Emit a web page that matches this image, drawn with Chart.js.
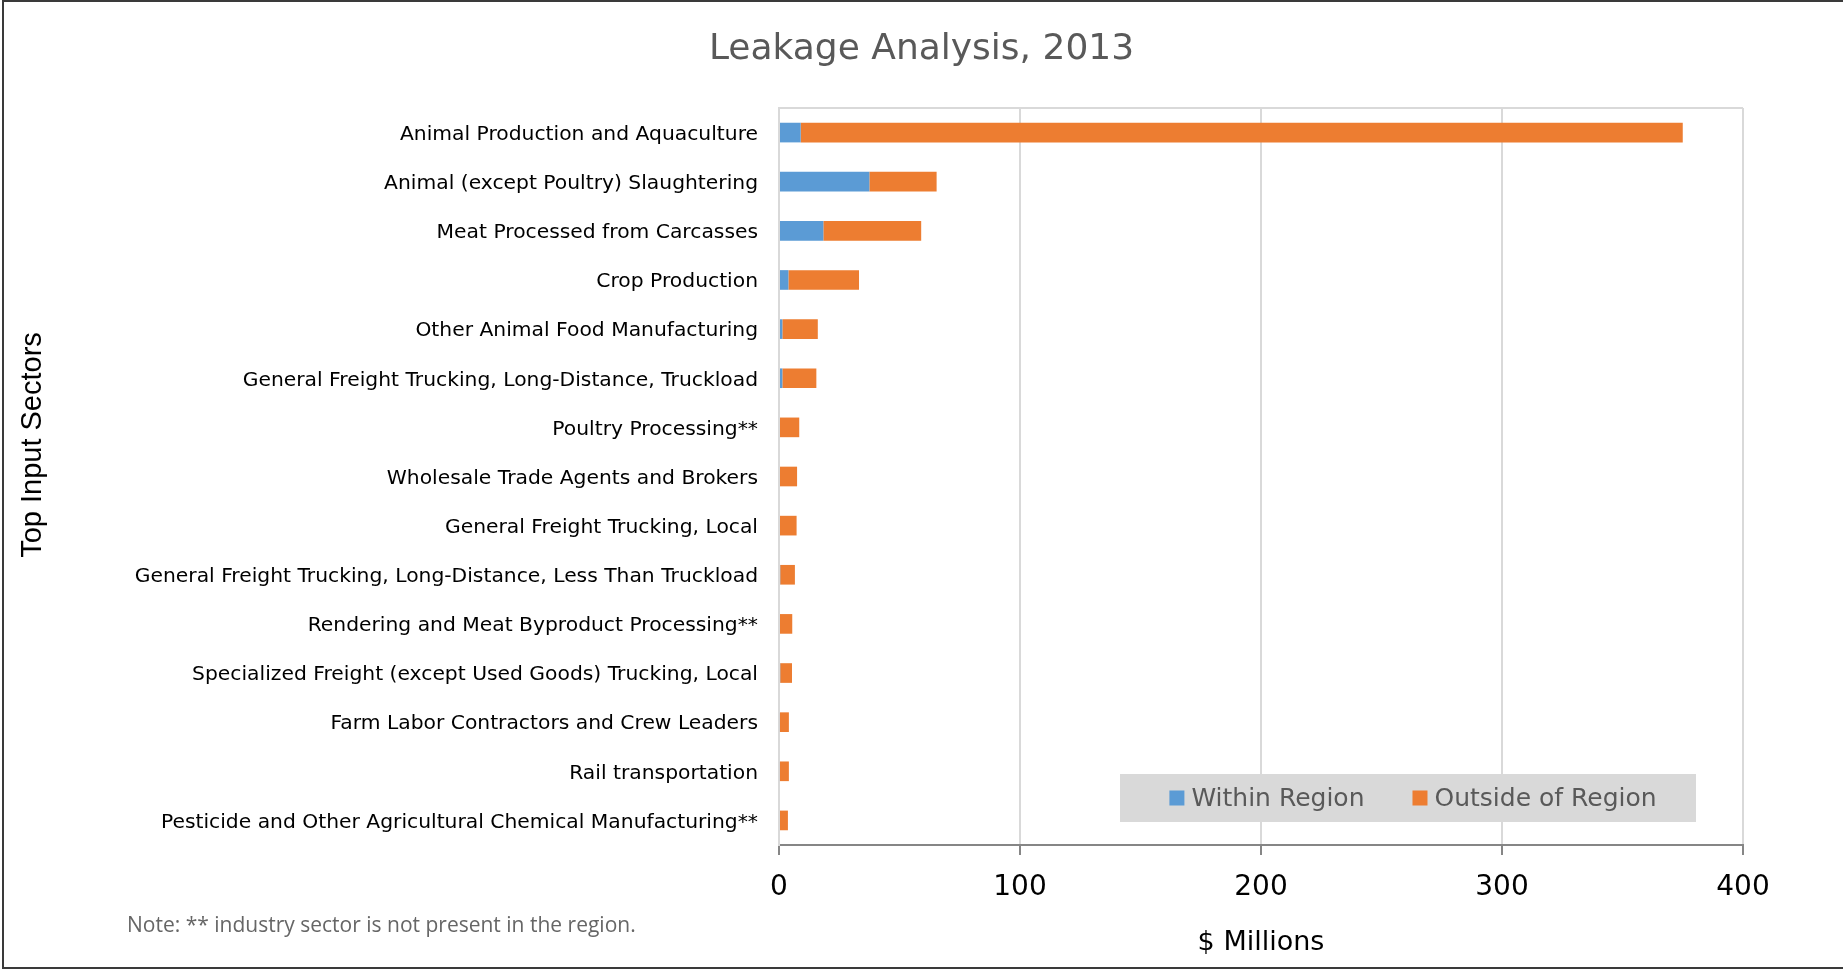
<!DOCTYPE html>
<html lang="en">
<head>
<meta charset="utf-8">
<title>Leakage Analysis, 2013</title>
<script src="https://cdn.jsdelivr.net/npm/chart.js@4.4.1/dist/chart.umd.min.js"></script>
<style>
  html, body { margin: 0; padding: 0; background: #fff; }
  #wrap { position: relative; width: 1843px; height: 970px; }
</style>
</head>
<body>
<div id="wrap"><canvas id="leakageChart"></canvas></div>
<script>
// Daten aus dem Diagramm (Werte in $ Millionen)
const sectors = [
  "Animal Production and Aquaculture",
  "Animal (except Poultry) Slaughtering",
  "Meat Processed from Carcasses",
  "Crop Production",
  "Other Animal Food Manufacturing",
  "General Freight Trucking, Long-Distance, Truckload",
  "Poultry Processing**",
  "Wholesale Trade Agents and Brokers",
  "General Freight Trucking, Local",
  "General Freight Trucking, Long-Distance, Less Than Truckload",
  "Rendering and Meat Byproduct Processing**",
  "Specialized Freight (except Used Goods) Trucking, Local",
  "Farm Labor Contractors and Crew Leaders",
  "Rail transportation",
  "Pesticide and Other Agricultural Chemical Manufacturing**",
];
const withinRegion = [9, 37.5, 18.4, 3.9, 1.4, 1.4, 0, 0, 0, 0.5, 0, 0.5, 0.4, 0.4, 0];
const outsideRegion = [366, 27.9, 40.6, 29.3, 14.7, 14.1, 8.4, 7.5, 7.3, 6.1, 5.5, 4.9, 3.7, 3.7, 3.7];
const xTickValues = [0, 100, 200, 300, 400];

const chartTitle = "Leakage Analysis, 2013";
const xAxisTitle = "$ Millions";
const yAxisTitle = "Top Input Sectors";
const noteText = "Note: ** industry sector is not present in the region.";

// Rahmen, Titel, Achsentitel, Hinweis und Legende selbst zeichnen
const extrasPlugin = {
  id: "extras",
  beforeDatasetsDraw(chart) {
    const { ctx, chartArea } = chart;
    ctx.save();
    ctx.strokeStyle = "#d9d9d9";
    ctx.lineWidth = 2;
    ctx.beginPath();
    ctx.moveTo(chartArea.left, chartArea.top);
    ctx.lineTo(chartArea.right, chartArea.top);
    ctx.stroke();
    ctx.restore();
  },
  afterDraw(chart) {
    const { ctx, chartArea } = chart;
    ctx.save();

    // outer frame (top, left, bottom)
    ctx.strokeStyle = "#3a3a3a";
    ctx.lineWidth = 2;
    ctx.beginPath();
    ctx.moveTo(chart.width, 1);
    ctx.lineTo(3, 1);
    ctx.lineTo(3, chart.height - 2);
    ctx.lineTo(chart.width, chart.height - 2);
    ctx.stroke();

    // chart title, centred on the whole picture
    ctx.font = "36px 'DejaVu Sans', sans-serif";
    ctx.fillStyle = "#595959";
    ctx.textAlign = "center";
    ctx.textBaseline = "middle";
    ctx.fillText(chartTitle, chart.width / 2, 50);

    // y axis title
    ctx.save();
    ctx.translate(33, 445);
    ctx.rotate(-Math.PI / 2);
    ctx.font = "29px 'Liberation Sans', Arial, sans-serif";
    ctx.fillStyle = "#000";
    ctx.textAlign = "center";
    ctx.textBaseline = "middle";
    ctx.fillText(yAxisTitle, 0, 0);
    ctx.restore();

    // note
    ctx.font = "21px 'Open Sans', sans-serif";
    ctx.fillStyle = "#666";
    ctx.textAlign = "left";
    ctx.textBaseline = "middle";
    ctx.fillText(noteText, 127, 926);

    // legend inside the plot area
    const box = {
      left: chartArea.left + 341,
      right: chartArea.right - 47,
      top: chartArea.bottom - 71,
      bottom: chartArea.bottom - 23,
    };
    ctx.fillStyle = "#d9d9d9";
    ctx.fillRect(box.left, box.top, box.right - box.left, box.bottom - box.top);

    ctx.font = "25px 'DejaVu Sans', sans-serif";
    const square = 15;
    const gap = 7;
    const itemGap = 48;
    const items = chart.data.datasets.map((ds) => ({
      label: ds.label,
      color: ds.backgroundColor,
      width: ctx.measureText(ds.label).width,
    }));
    let total = 0;
    items.forEach((it, i) => {
      total += square + gap + it.width + (i > 0 ? itemGap : 0);
    });
    let x = (box.left + box.right) / 2 - total / 2 + 5;
    const midY = (box.top + box.bottom) / 2;
    items.forEach((it) => {
      ctx.fillStyle = it.color;
      ctx.fillRect(x, midY - square / 2, square, square);
      x += square + gap;
      ctx.fillStyle = "#595959";
      ctx.textAlign = "left";
      ctx.textBaseline = "middle";
      ctx.fillText(it.label, x, midY + 1);
      x += it.width + itemGap;
    });

    ctx.restore();
  },
};

const ctx = document.getElementById("leakageChart").getContext("2d");
new Chart(ctx, {
  type: "bar",
  data: {
    labels: sectors,
    datasets: [
      {
        label: "Within Region",
        data: withinRegion,
        backgroundColor: "#5b9bd5",
        barPercentage: 0.4,
        categoryPercentage: 1,
      },
      {
        label: "Outside of Region",
        data: outsideRegion,
        backgroundColor: "#ed7d31",
        barPercentage: 0.4,
        categoryPercentage: 1,
      },
    ],
  },
  options: {
    indexAxis: "y",
    responsive: true,
    maintainAspectRatio: false,
    devicePixelRatio: 1,
    animation: false,
    layout: { padding: { left: 0, right: 100, top: 108, bottom: 0 } },
    plugins: {
      legend: { display: false },
      tooltip: { enabled: false },
      title: { display: false },
    },
    scales: {
      x: {
        stacked: true,
        min: 0,
        max: 400,
        afterBuildTicks(scale) {
          scale.ticks = xTickValues.map((v) => ({ value: v }));
        },
        afterFit(scale) {
          scale.height = 125;
        },
        grid: {
          color: "#d9d9d9",
          lineWidth: 2,
          tickColor: "#868686",
          tickLength: 10,
        },
        border: { color: "#868686", width: 2 },
        ticks: {
          color: "#000",
          padding: 16,
          maxRotation: 0,
          font: { family: "'DejaVu Sans', sans-serif", size: 28 },
        },
        title: {
          display: true,
          text: xAxisTitle,
          color: "#000",
          font: { family: "'DejaVu Sans', sans-serif", size: 27 },
          padding: { top: 0, bottom: 11 },
        },
      },
      y: {
        stacked: true,
        afterFit(scale) {
          scale.width = 779;
        },
        grid: { display: false },
        border: { color: "#d9d9d9", width: 2 },
        ticks: {
          color: "#000",
          padding: 13,
          labelOffset: 2,
          autoSkip: false,
          font: { family: "'DejaVu Sans', sans-serif", size: 20.3 },
        },
      },
    },
  },
  plugins: [extrasPlugin],
});
</script>
</body>
</html>
